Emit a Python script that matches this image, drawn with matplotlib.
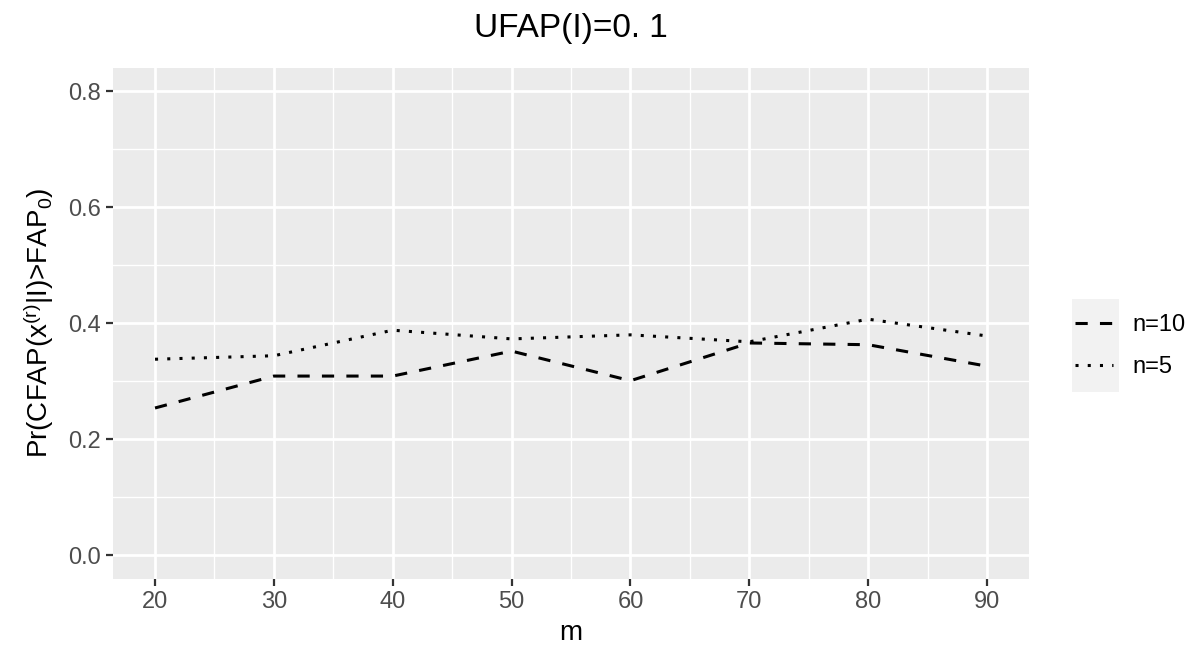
import numpy as np
import matplotlib
matplotlib.use('Agg')
import matplotlib.pyplot as plt
from matplotlib.patches import Rectangle
from matplotlib.ticker import MultipleLocator

plt.rcParams['font.family'] = ['Liberation Sans', 'DejaVu Sans']
plt.rcParams['mathtext.fontset'] = 'custom'
plt.rcParams['mathtext.rm'] = 'Liberation Sans'
plt.rcParams['mathtext.it'] = 'Liberation Sans'
plt.rcParams['mathtext.default'] = 'regular'

# 数据
m = [20, 30, 40, 50, 60, 70, 80, 90]
pr_n10 = [0.254, 0.309, 0.309, 0.352, 0.301, 0.366, 0.363, 0.326]
pr_n5 = [0.338, 0.344, 0.388, 0.373, 0.380, 0.368, 0.407, 0.378]
labels = ['n=10', 'n=5']

fig = plt.figure(figsize=(11.99, 6.53), dpi=100)
ax = fig.add_axes([0.0946, 0.1138, 0.7633, 0.7824])

lw = 2.2
ax.plot(m, pr_n10, color='black', lw=lw, linestyle=(0, (4, 4)),
        dash_capstyle='butt', solid_capstyle='butt')
ax.plot(m, pr_n5, color='black', lw=lw, linestyle=(0, (1, 3)),
        dash_capstyle='butt')

# ggplot风格的灰底白网格
ax.set_facecolor('#EBEBEB')
for s in ax.spines.values():
    s.set_visible(False)
ax.set_xlim(16.5, 93.5)
ax.set_ylim(-0.04, 0.84)
ax.xaxis.set_major_locator(MultipleLocator(10))
ax.xaxis.set_minor_locator(MultipleLocator(5))
ax.yaxis.set_major_locator(MultipleLocator(0.2))
ax.yaxis.set_minor_locator(MultipleLocator(0.1))
ax.set_yticks([0, 0.2, 0.4, 0.6, 0.8])
ax.set_yticklabels(['0.0', '0.2', '0.4', '0.6', '0.8'])
ax.grid(which='major', color='white', lw=2.0)
ax.grid(which='minor', color='white', lw=1.0)
ax.set_axisbelow(True)
ax.tick_params(which='major', length=5, width=1.6, color='#333333',
               labelcolor='#4D4D4D', labelsize=17, pad=4)
ax.tick_params(which='minor', length=0)

ax.set_xlabel('m', fontsize=20, labelpad=5)
ax.set_ylabel(r'Pr(CFAP(x$^{(r)}$|I)>FAP$_0$)', fontsize=20, labelpad=9)
ax.set_title('UFAP(I)=0. 1', fontsize=24, pad=22)

# 图例
h1, = ax.plot([], [], color='black', lw=lw, linestyle=(0, (4, 4)))
h2, = ax.plot([], [], color='black', lw=lw, linestyle=(0, (1, 3)))
fig.patches.append(Rectangle((1072 / 1199, 1 - 392 / 653), 47 / 1199, 93 / 653,
                             transform=fig.transFigure, facecolor='#F2F2F2',
                             edgecolor='none', zorder=0))
fig.legend([h1, h2], labels, loc='center left',
           bbox_to_anchor=(1075 / 1199, 1 - 346 / 653), frameon=False,
           fontsize=17, handlelength=1.6, handletextpad=0.85,
           labelspacing=0.85, borderpad=0, borderaxespad=0)

fig.savefig('out.png', dpi=100)
